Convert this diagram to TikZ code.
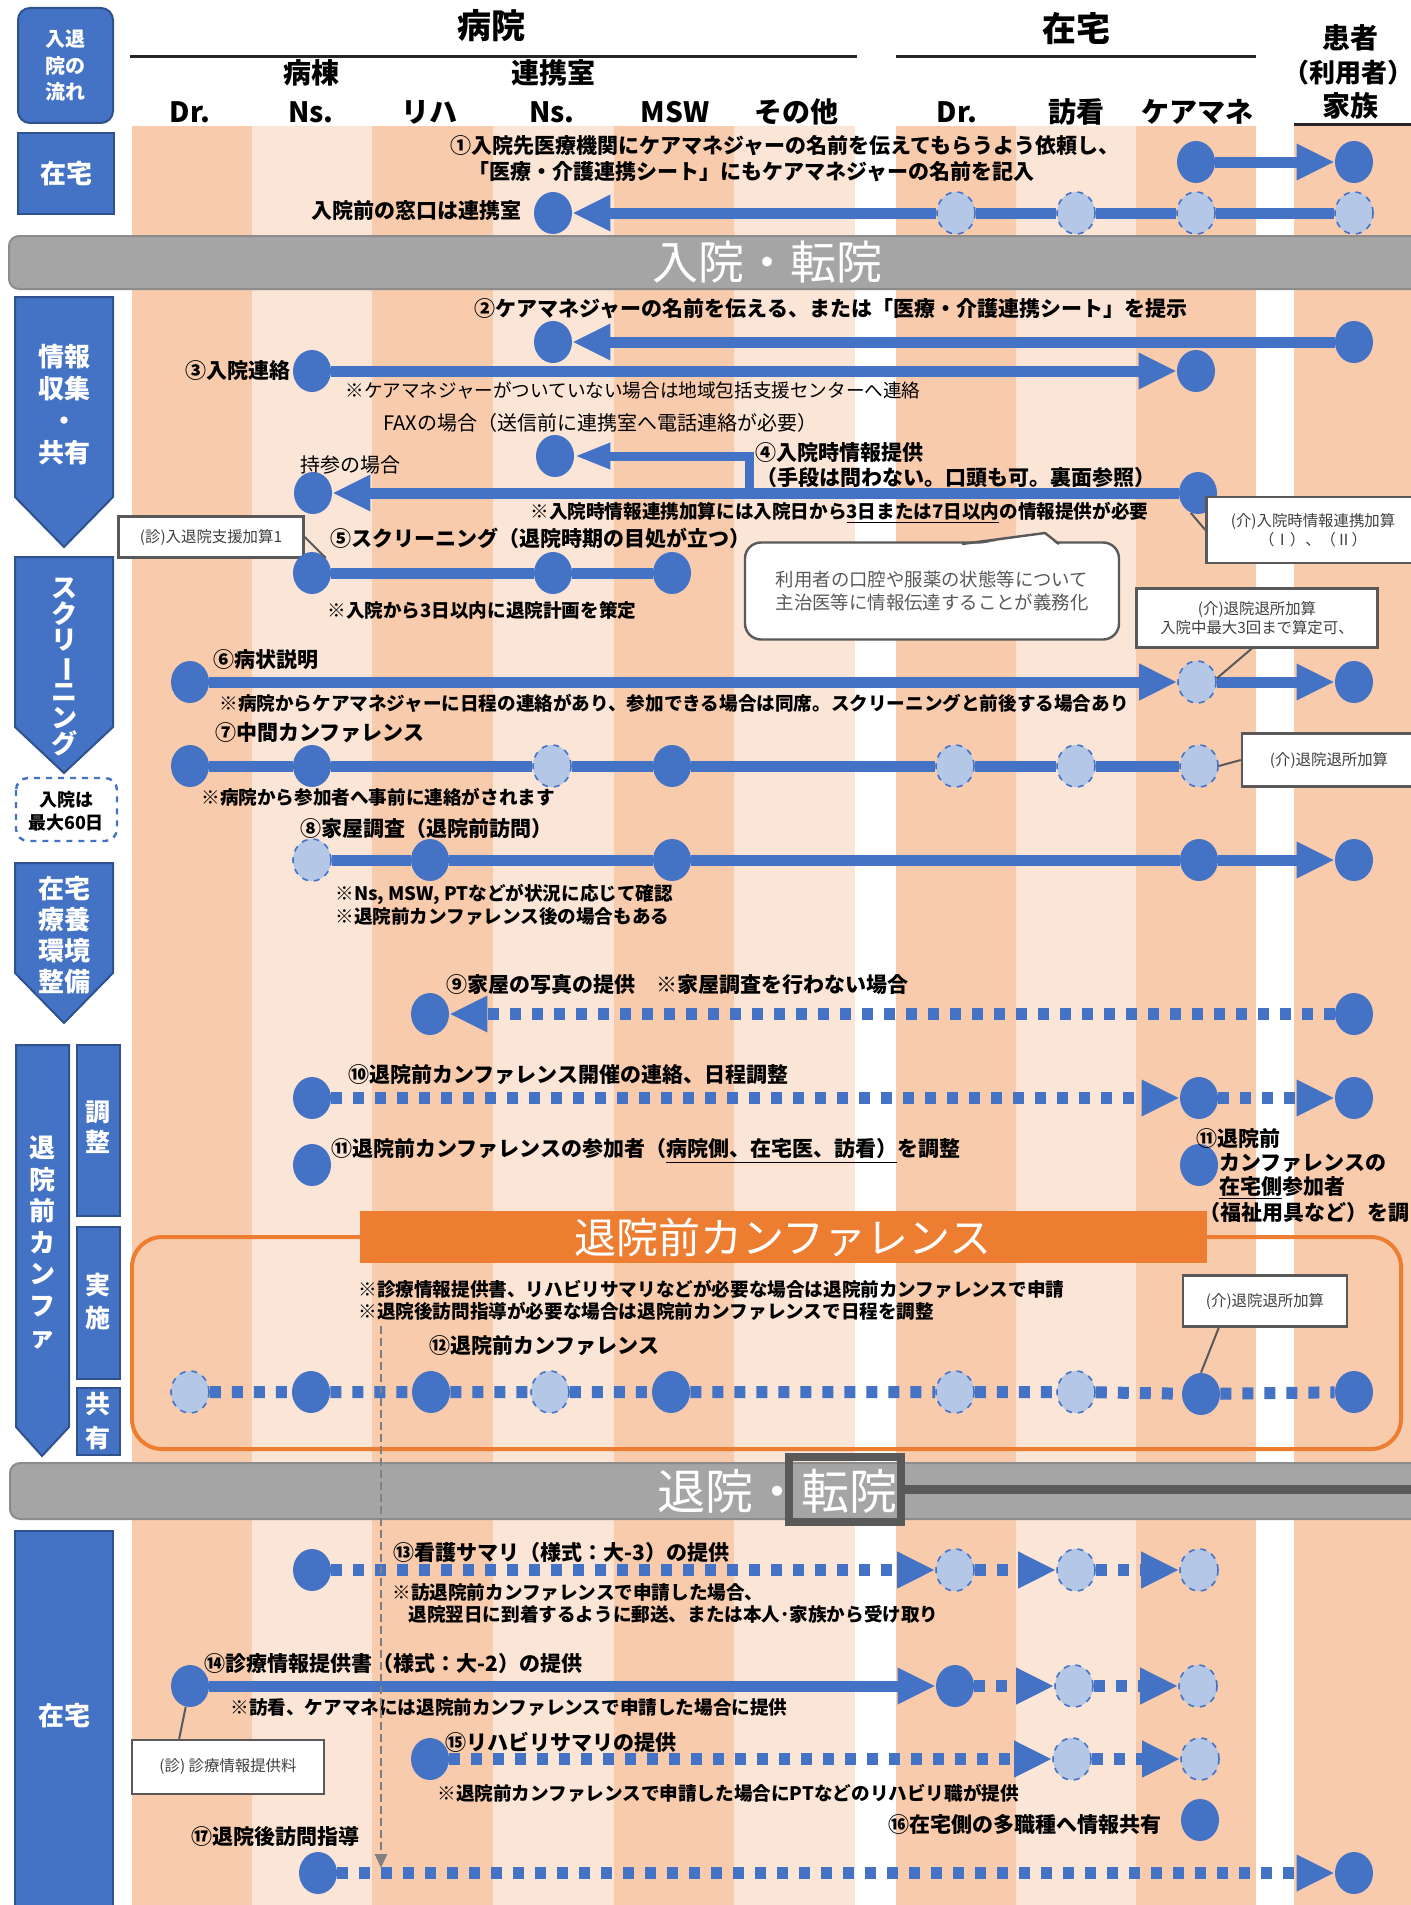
\documentclass[tikz,border=0pt]{standalone}
\usepackage{fontspec}
\setmainfont{Noto Sans CJK JP}
\usetikzlibrary{shapes.geometric,arrows.meta,positioning}
\definecolor{qblue}{HTML}{4472C4}
\definecolor{qbluedark}{HTML}{2F528F}
\definecolor{qpale}{HTML}{B4C7E7}
\definecolor{sdark}{HTML}{F8CBAD}
\definecolor{slight}{HTML}{FBE5D6}
\definecolor{bandgray}{HTML}{A5A5A5}
\definecolor{bandedge}{HTML}{8C8C8C}
\definecolor{deepgray}{HTML}{595959}
\definecolor{qorange}{HTML}{ED7D31}
\definecolor{cgray}{HTML}{595959}
\definecolor{tgray}{HTML}{404040}

\begin{document}
\begin{tikzpicture}[x=0.5pt, y=-0.5pt,
    dot/.style={ellipse, fill=qblue, minimum width=19pt, minimum height=21pt, inner sep=0pt},
    pale/.style={dot, fill=qpale, draw=qblue, dashed, line width=0.8pt},
    flow/.style={draw=qblue, line width=5.5pt},
    dflow/.style={draw=qblue, line width=6pt, dash pattern=on 5.5pt off 5.5pt},
    arrowed/.style={-{Triangle[length=19pt, width=17pt]}},
    ttl/.style={inner sep=0pt, font=\fontsize{10.5}{13}\selectfont\bfseries},
    note/.style={inner sep=0pt, font=\fontsize{9.3}{12}\selectfont\bfseries},
    memo/.style={inner sep=0pt, font=\fontsize{9.3}{12}\selectfont},
    colhead/.style={inner sep=0pt, font=\fontsize{14}{16}\selectfont\bfseries},
    lbox/.style={draw=qbluedark, line width=1pt, fill=qblue},
    ltext/.style={text=white, align=center, inner sep=0pt},
    cbox/.style={draw=cgray, line width=1.2pt, fill=white, inner sep=0pt, align=center, text=tgray, font=\fontsize{7.7}{9.5}\selectfont},
    cline/.style={draw=cgray, line width=1pt},
    band/.style={draw=bandedge, line width=1pt, fill=bandgray, rounded corners=5pt},
    bandtext/.style={text=white, inner sep=0pt}
]
    \useasboundingbox (0,0) rectangle (1411,1905);
    \fill[white] (0,0) rectangle (1411,1905);

    % Column stripes
    \foreach \xa/\xb/\shade in {132/252/sdark, 252/372/slight, 372/493/sdark, 493/614/slight, 614/734/sdark, 734/855/slight,
                                896/1016/sdark, 1016/1136/slight, 1136/1256/sdark, 1294/1411/sdark}
        \fill[\shade] (\xa,126) rectangle (\xb,1905);

    % Column headers
    \node[inner sep=0pt, font=\fontsize{17}{20}\selectfont\bfseries] (hosp) at (491,26) {病院};
    \draw[line width=1.5pt, black!85] (130,57) -- (857,57);
    \node[inner sep=0pt, font=\fontsize{17}{20}\selectfont\bfseries] (home) at (1076,29) {在宅};
    \draw[line width=1.5pt, black!85] (896,57) -- (1256,57);
    \node[colhead] (pat1) at (1350,38) {患者};
    \node[inner sep=0pt, font=\fontsize{13}{16}\selectfont\bfseries] (pat2) at (1348,73) {（利用者）};
    \node[colhead] (pat3) at (1350,106) {家族};
    \draw[line width=1.5pt, black!85] (1294,125) -- (1411,125);
    \node[colhead] (ward) at (311,73) {病棟};
    \node[colhead] (liaison) at (553,73) {連携室};
    \node[colhead] (hdr) at (190,112) {Dr.};
    \node[colhead] (hns) at (311,112) {Ns.};
    \node[colhead] (hreh) at (429,112) {リハ};
    \node[colhead] (hlns) at (552,112) {Ns.};
    \node[colhead] (hmsw) at (675,112) {MSW};
    \node[colhead] (hoth) at (796,112) {その他};
    \node[colhead] (hhdr) at (957,112) {Dr.};
    \node[colhead] (hvn) at (1076,112) {訪看};
    \node[colhead] (hcm) at (1197,112) {ケアマネ};

    % Left phase labels
    \draw[lbox, rounded corners=6pt] (18,8) rectangle (113,123);
    \node[ltext, font=\fontsize{10}{13.25}\selectfont\bfseries] (flowlbl) at (65,66) {入退\\院の\\流れ};
    \draw[lbox] (18,133) rectangle (114,214);
    \node[ltext, font=\fontsize{13}{16}\selectfont\bfseries] (homelbl) at (66,174) {在宅};
    \draw[lbox] (15,297) -- (113,297) -- (113,497) -- (64,547) -- (15,497) -- cycle;
    \node[ltext, font=\fontsize{13}{16}\selectfont\bfseries] (infolbl) at (64,405) {情報\\収集\\・\\共有};
    \draw[lbox] (15,557) -- (113,557) -- (113,727) -- (64,773) -- (15,727) -- cycle;
    \node[ltext, font=\fontsize{13}{13}\selectfont\bfseries] (scrlbl) at (64,667) {ス\\ク\\リ\\\rotatebox[origin=c]{-90}{ー}\\ニ\\ン\\グ};
    \draw[qblue, dashed, line width=1.2pt, rounded corners=6pt] (16,778) rectangle (117,841);
    \node[align=center, inner sep=0pt, font=\fontsize{9}{11.5}\selectfont\bfseries] (maxlbl) at (66,811) {入院は\\最大60日};
    \draw[lbox] (15,863) -- (113,863) -- (113,973) -- (64,1023) -- (15,973) -- cycle;
    \node[ltext, font=\fontsize{13}{15.5}\selectfont\bfseries] (envlbl) at (64,935) {在宅\\療養\\環境\\整備};
    \draw[lbox] (16,1045) -- (69,1045) -- (69,1427) -- (42,1456) -- (16,1427) -- cycle;
    \node[ltext, font=\fontsize{13}{15.75}\selectfont\bfseries] (conflbl) at (42,1243) {退\\院\\前\\カ\\ン\\フ\\ァ};
    \draw[lbox] (77,1045) rectangle (120,1216);
    \node[ltext, font=\fontsize{12.5}{15}\selectfont\bfseries] (adjlbl) at (98,1127) {調\\整};
    \draw[lbox] (77,1227) rectangle (120,1379);
    \node[ltext, font=\fontsize{12.5}{16.5}\selectfont\bfseries] (execlbl) at (98,1302) {実\\施};
    \draw[lbox] (77,1388) rectangle (120,1455);
    \node[ltext, font=\fontsize{12.5}{17}\selectfont\bfseries] (sharelbl) at (98,1421) {共\\有};
    \draw[lbox] (15,1531) rectangle (113,1915);
    \node[ltext, font=\fontsize{13}{16}\selectfont\bfseries] (homelbl2) at (64,1716) {在宅};

    % Admission band
    \draw[band] (9,236) rectangle (1425,289);
    \node[bandtext, font=\fontsize{23}{26}\selectfont] (admit) at (767,262) {入院・転院};

    % Row 1
    \node[ttl, anchor=west] (t1a) at (450,146) {①入院先医療機関にケアマネジャーの名前を伝えてもらうよう依頼し、};
    \node[ttl, anchor=west] (t1b) at (468,172) {「医療・介護連携シート」にもケアマネジャーの名前を記入};
    \node[dot] (cm1) at (1196,162) {};
    \node[dot] (pt1) at (1354,162) {};
    \draw[flow, arrowed] (cm1) -- (pt1);

    \node[ttl, anchor=east] (t0) at (522,211) {入院前の窓口は連携室};
    \node[dot] (rs0) at (553,213) {};
    \node[pale] (hd0) at (956,213) {};
    \node[pale] (hv0) at (1076,213) {};
    \node[pale] (cm0) at (1196,213) {};
    \node[pale] (pt0) at (1354,213) {};
    \draw[flow] (pt0) -- (cm0) -- (hv0) -- (hd0);
    \draw[flow, arrowed] (hd0) -- (rs0);

    % Row 2, 3
    \node[ttl] (t2) at (831,309) {②ケアマネジャーの名前を伝える、または「医療・介護連携シート」を提示};
    \node[dot] (rs2) at (553,342) {};
    \node[dot] (pt2) at (1354,342) {};
    \draw[flow, arrowed] (pt2) -- (rs2);

    \node[ttl, anchor=east] (t3) at (291,371) {③入院連絡};
    \node[dot] (ns3) at (312,371) {};
    \node[dot] (cm3) at (1196,371) {};
    \draw[flow, arrowed] (ns3) -- (cm3);
    \node[memo, anchor=west] (m3) at (345,390) {※ケアマネジャーがついていない場合は地域包括支援センターへ連絡};
    \node[memo, anchor=west, font=\fontsize{10}{12}\selectfont] (fax) at (383,423) {FAXの場合（送信前に連携室へ電話連絡が必要）};

    % Row 4
    \node[ttl, anchor=west] (t4a) at (755,453) {④入院時情報提供};
    \node[ttl, anchor=west] (t4b) at (756,478) {（手段は問わない。口頭も可。裏面参照）};
    \node[memo, anchor=west, font=\fontsize{10}{12}\selectfont] (bring) at (300,465) {持参の場合};
    \node[dot] (rs4) at (555,456) {};
    \node[dot] (ns4) at (313,493) {};
    \node[dot] (cm4) at (1198,493) {};
    \coordinate (fork4) at (749,493);
    \draw[flow, arrowed] (cm4) -- (ns4);
    \draw[flow, line width=4.5pt, -{Triangle[length=18pt, width=12pt]}] (fork4) |- (rs4);
    \node[note, anchor=west] (n4) at (530,513) {※入院時情報連携加算には入院日から\underline{3日または7日以内}の情報提供が必要};
    \node[cbox, minimum width=106.5pt, minimum height=33pt] (bx4) at (1313,530) {(介)入院時情報連携加算\\（Ⅰ）、（Ⅱ）};
    \draw[cline] (cm4.250) -- (bx4.west);

    \node[draw=cgray, line width=1.2pt, fill=white, rounded corners=8pt, minimum width=187pt, minimum height=48.5pt,
          align=center, text=cgray, font=\fontsize{9.2}{11.5}\selectfont] (bubble) at (932,591) {利用者の口腔や服薬の状態等について\\主治医等に情報伝達することが義務化};
    \fill[white] (962,547) -- (1045,533) -- (1059,547) -- cycle;
    \draw[cgray, line width=1.2pt, line join=round] (962,544) -- (1045,533) -- (1059,544);

    % Row 5
    \node[cbox, minimum width=92.5pt, minimum height=20.5pt] (bx5) at (211,537) {(診)入退院支援加算1};
    \node[ttl, anchor=west] (t5) at (330,538) {⑤スクリーニング（退院時期の目処が立つ）};
    \node[dot] (ns5) at (312,573) {};
    \node[dot] (rs5) at (553,573) {};
    \node[dot] (ms5) at (672,573) {};
    \draw[flow] (ns5) -- (rs5) -- (ms5);
    \draw[cline] (bx5.east) -- (ns5.north east);
    \node[note, anchor=west] (n5) at (327,610) {※入院から3日以内に退院計画を策定};

    % Row 6
    \node[cbox, minimum width=120.5pt, minimum height=29.5pt] (bx6) at (1257,618) {(介)退院退所加算\\入院中最大3回まで算定可、};
    \node[ttl, anchor=west] (t6) at (213,660) {⑥病状説明};
    \node[dot] (dr6) at (190,682) {};
    \node[pale] (cm6) at (1197,682) {};
    \node[dot] (pt6) at (1354,682) {};
    \draw[flow, arrowed] (dr6) -- (cm6);
    \draw[flow, arrowed] (cm6) -- (pt6);
    \draw[cline] (bx6.-100) -- (cm6.10);
    \node[note, anchor=west] (n6) at (219,703) {※病院からケアマネジャーに日程の連絡があり、参加できる場合は同席。スクリーニングと前後する場合あり};

    % Row 7
    \node[ttl, anchor=west] (t7) at (215,733) {⑦中間カンファレンス};
    \node[dot] (dr7) at (190,766) {};
    \node[dot] (ns7) at (312,766) {};
    \node[pale] (rs7) at (552,766) {};
    \node[dot] (ms7) at (672,766) {};
    \node[pale] (hd7) at (955,766) {};
    \node[pale] (hv7) at (1076,766) {};
    \node[pale] (cm7) at (1199,766) {};
    \draw[flow] (dr7) -- (ns7) -- (rs7) -- (ms7) -- (hd7) -- (hv7) -- (cm7);
    \node[note, anchor=west] (n7) at (201,797) {※病院から参加者へ事前に連絡がされます};
    \node[cbox, minimum width=87pt, minimum height=26.5pt] (bx7) at (1329,760) {(介)退院退所加算};
    \draw[cline] (bx7.west) -- (cm7.east);

    % Row 8
    \node[ttl, anchor=west] (t8) at (300,829) {⑧家屋調査（退院前訪問）};
    \node[pale] (ns8) at (312,860) {};
    \node[dot] (rh8) at (430,860) {};
    \node[dot] (ms8) at (672,860) {};
    \node[dot] (cm8) at (1199,860) {};
    \node[dot] (pt8) at (1354,860) {};
    \draw[flow] (ns8) -- (rh8) -- (ms8) -- (cm8);
    \draw[flow, arrowed] (cm8) -- (pt8);
    \node[note, anchor=west] (n8a) at (335,894) {※Ns, MSW, PTなどが状況に応じて確認};
    \node[note, anchor=west] (n8b) at (335,916) {※退院前カンファレンス後の場合もある};

    % Row 9
    \node[ttl, anchor=west] (t9) at (446,985) {⑨家屋の写真の提供　※家屋調査を行わない場合};
    \node[dot] (rh9) at (430,1014) {};
    \node[dot] (pt9) at (1354,1014) {};
    \draw[dflow, arrowed] (pt9) -- (rh9);

    % Row 10, 11
    \node[ttl, anchor=west] (t10) at (348,1075) {⑩退院前カンファレンス開催の連絡、日程調整};
    \node[dot] (ns10) at (312,1098) {};
    \node[dot] (cm10) at (1199,1098) {};
    \node[dot] (pt10) at (1354,1098) {};
    \draw[dflow, arrowed] (ns10) -- (cm10);
    \draw[dflow, arrowed] (cm10) -- (pt10);

    \node[ttl, anchor=west] (t11) at (331,1151) {⑪退院前カンファレンスの参加者（\underline{病院側、在宅医、訪看）}を調整};
    \node[dot] (ns11) at (312,1165) {};
    \node[dot] (cm11) at (1199,1165) {};
    \node[ttl, anchor=west] (t11a) at (1196,1138) {⑪退院前};
    \node[ttl, anchor=west] (t11b) at (1219,1163) {カンファレンスの};
    \node[ttl, anchor=west] (t11c) at (1219,1188) {\underline{在宅側}参加者};
    \node[ttl, anchor=west] (t11d) at (1199,1213) {（福祉用具など）を調};

    % Pre-discharge conference
    \draw[qorange, line width=2pt, rounded corners=15pt] (132,1237) rectangle (1401,1449);
    \node[fill=qorange, minimum width=423.5pt, minimum height=26pt, inner sep=0pt, text=white,
          font=\fontsize{21}{24}\selectfont] (confban) at (783,1237) {退院前カンファレンス};
    \node[note, anchor=west] (n12a) at (358,1289) {※診療情報提供書、リハビリサマリなどが必要な場合は退院前カンファレンスで申請};
    \node[note, anchor=west] (n12b) at (358,1311) {※退院後訪問指導が必要な場合は退院前カンファレンスで日程を調整};
    \node[cbox, minimum width=82pt, minimum height=25.5pt] (bx12) at (1265,1301) {(介)退院退所加算};
    \node[ttl, anchor=west] (t12) at (429,1346) {⑫退院前カンファレンス};
    \node[pale] (dr12) at (190,1392) {};
    \node[dot] (ns12) at (311,1392) {};
    \node[dot] (rh12) at (431,1392) {};
    \node[pale] (rs12) at (550,1392) {};
    \node[dot] (ms12) at (671,1392) {};
    \node[pale] (hd12) at (955,1392) {};
    \node[pale] (hv12) at (1076,1392) {};
    \node[dot] (cm12) at (1201,1394) {};
    \node[dot] (pt12) at (1354,1392) {};
    \draw[dflow] (dr12) -- (ns12) -- (rh12) -- (rs12) -- (ms12) -- (hd12) -- (hv12) -- (cm12) -- (pt12);
    \draw[cline] (bx12.-150) -- (cm12.north);

    % Discharge band
    \draw[band] (10,1463) rectangle (1425,1519);
    \node[bandtext, font=\fontsize{24}{27}\selectfont] (leave) at (777,1491) {退院・転院};
    \draw[deepgray, line width=4pt] (789,1457) rectangle (901,1522);
    \fill[deepgray] (903,1485) rectangle (1411,1494);

    % Row 13
    \node[ttl, anchor=west] (t13) at (393,1552) {⑬看護サマリ（様式：大-3）の提供};
    \node[dot] (ns13) at (312,1570) {};
    \node[pale] (hd13) at (955,1570) {};
    \node[pale] (hv13) at (1076,1570) {};
    \node[pale] (cm13) at (1199,1570) {};
    \draw[dflow, arrowed] (ns13) -- (hd13);
    \draw[dflow, arrowed] (hd13) -- (hv13);
    \draw[dflow, arrowed] (hv13) -- (cm13);
    \node[note, anchor=west] (n13a) at (392,1593) {※訪退院前カンファレンスで申請した場合、};
    \node[note, anchor=west] (n13b) at (408,1614) {退院翌日に到着するように郵送、または本人･家族から受け取り};

    % Row 14
    \node[ttl, anchor=west] (t14) at (204,1663) {⑭診療情報提供書（様式：大-2）の提供};
    \node[dot] (dr14) at (190,1686) {};
    \node[dot] (hd14) at (955,1686) {};
    \node[pale] (hv14) at (1074,1686) {};
    \node[pale] (cm14) at (1198,1686) {};
    \draw[flow, arrowed] (dr14) -- (hd14);
    \draw[dflow, arrowed] (hd14) -- (hv14);
    \draw[dflow, arrowed] (hv14) -- (cm14);
    \node[note, anchor=west] (n14) at (230,1708) {※訪看、ケアマネには退院前カンファレンスで申請した場合に提供};
    \node[cbox, minimum width=96pt, minimum height=27pt] (bx14) at (228,1767) {(診) 診療情報提供料};
    \draw[cline] (dr14) -- (bx14.150);

    % Row 15, 16, 17
    \node[ttl, anchor=west] (t15) at (445,1742) {⑮リハビリサマリの提供};
    \node[dot] (rh15) at (430,1759) {};
    \node[pale] (hv15) at (1072,1759) {};
    \node[pale] (cm15) at (1200,1759) {};
    \draw[dflow, arrowed] (rh15) -- (hv15);
    \draw[dflow, arrowed] (hv15) -- (cm15);
    \node[note, anchor=west] (n15) at (437,1793) {※退院前カンファレンスで申請した場合にPTなどのリハビリ職が提供};

    \node[ttl, anchor=east] (t16) at (1162,1824) {⑯在宅側の多職種へ情報共有};
    \node[dot] (cm16) at (1200,1820) {};

    \node[ttl, anchor=west] (t17) at (191,1836) {⑰退院後訪問指導};
    \node[dot] (ns17) at (318,1873) {};
    \node[dot] (pt17) at (1354,1873) {};
    \draw[dflow, arrowed] (ns17) -- (pt17);

    % Follow-up guide line
    \coordinate (gtop) at (381,1326);
    \coordinate (gend) at (381,1868);
    \draw[gray, line width=1.2pt, dash pattern=on 4pt off 2pt, -{Triangle[length=7pt, width=6pt]}] (gtop) -- (gend);
\end{tikzpicture}
\end{document}
